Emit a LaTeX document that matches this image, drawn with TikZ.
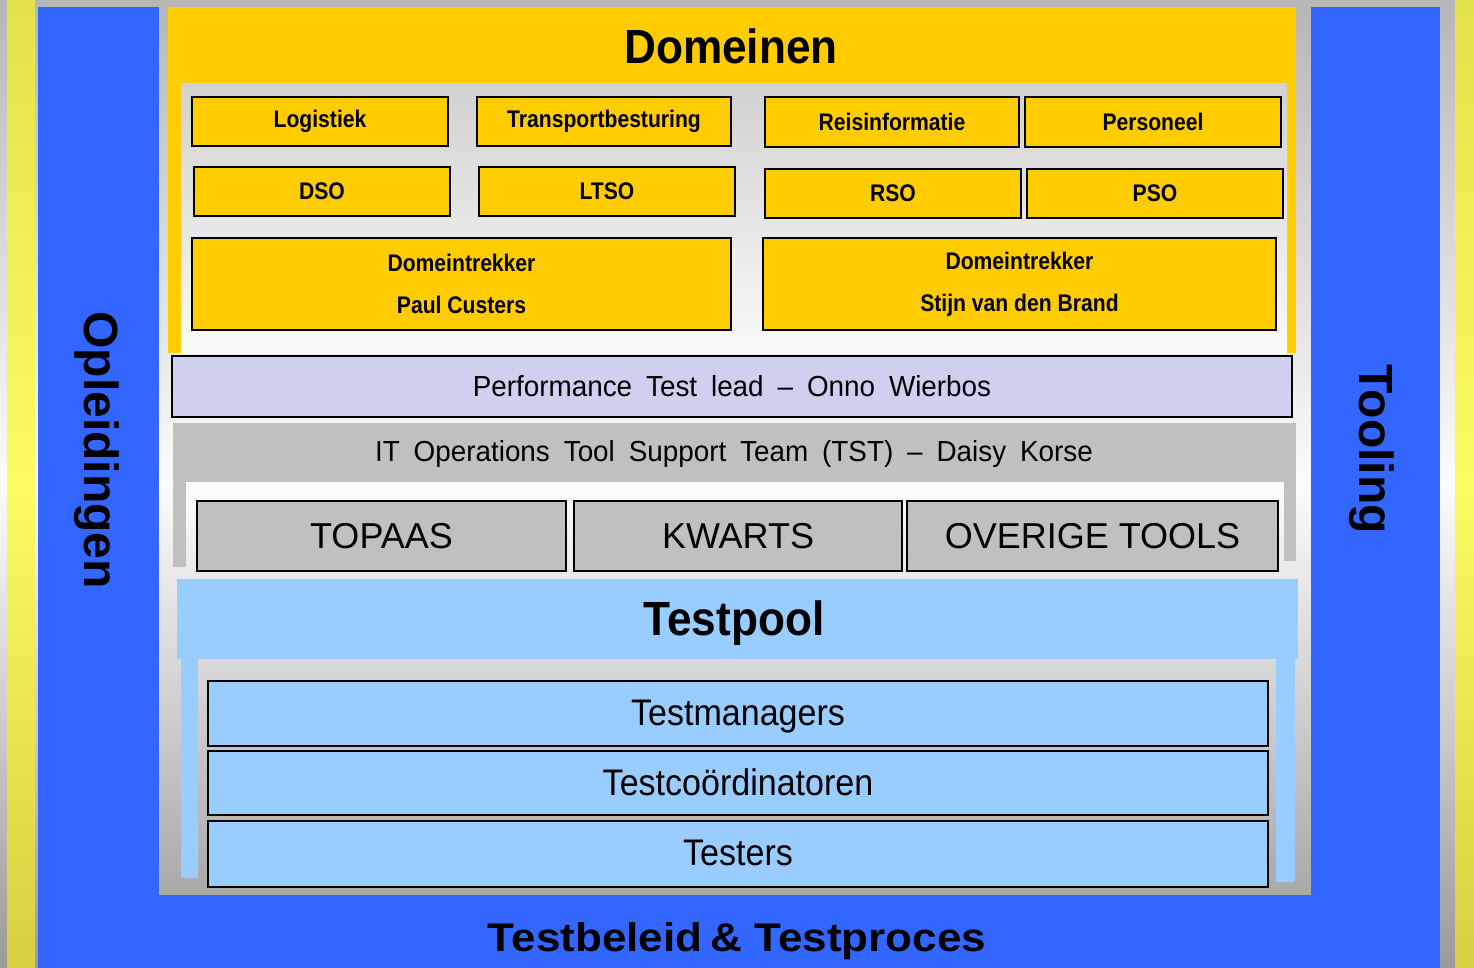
\documentclass[tikz,border=0pt]{standalone}
\usepackage{fontspec}
\setmainfont{Liberation Sans}
\newfontfamily\domfont{Liberation Sans}[FakeStretch=0.92]
\newfontfamily\narrowfont{Liberation Sans}[FakeStretch=0.88]
\newfontfamily\perffont{Liberation Sans}[FakeStretch=0.96,WordSpace=1.8]
\newfontfamily\widefont{Liberation Sans}[FakeStretch=1.1]
\newfontfamily\poolfont{Liberation Sans}[FakeStretch=0.92]
\definecolor{blueA}{HTML}{3366FF}
\definecolor{yel}{HTML}{FFCC00}
\definecolor{lav}{HTML}{CFCFEF}
\definecolor{grB}{HTML}{C0C0C0}
\definecolor{lb}{HTML}{99CCFF}
\definecolor{bgT}{HTML}{B6B6B6}
\definecolor{bgM}{HTML}{FCFCFC}
\definecolor{bgB}{HTML}{9A9A9A}
\definecolor{yT}{HTML}{E2E24A}
\definecolor{yM}{HTML}{FCFC62}
\definecolor{yB}{HTML}{D6D040}
\tikzset{
  box/.style={draw=black, line width=1.4pt, inner sep=0pt, outer sep=0pt, anchor=north west},
  dombox/.style={box, fill=yel, font=\narrowfont\bfseries\fontsize{24}{29}\selectfont, align=center},
  toolbox/.style={box, fill=grB, font=\fontsize{36}{40}\selectfont},
  poolbox/.style={box, line width=2pt, fill=lb, font=\poolfont\fontsize{37}{40}\selectfont, text depth=2pt},
  title/.style={font=\domfont\bfseries\fontsize{48}{52}\selectfont, inner sep=0pt},
  side/.style={font=\bfseries\fontsize{48}{52}\selectfont, rotate=-90, inner sep=0pt},
  lineT/.style={font=\perffont\fontsize{29}{32}\selectfont, inner sep=0pt}
}
\begin{document}
\begin{tikzpicture}[x=1pt,y=-1pt]
\useasboundingbox (0,0) rectangle (1474,968);
% background
\shade[top color=bgT, bottom color=bgB, middle color=bgM] (0,0) rectangle (1474,968);
\shade[top color=yT, bottom color=yB, middle color=yM] (7,0) rectangle (35,968);
\shade[top color=yT, bottom color=yB, middle color=yM] (1455,0) rectangle (1474,968);
% blue frame
\fill[blueA] (38,7) rectangle (159,968);
\fill[blueA] (1311,7) rectangle (1440,968);
\fill[blueA] (38,895) rectangle (1440,968);
% Domeinen frame
\fill[yel] (168,7) rectangle (1296,84);
\fill[yel] (168,84) rectangle (181,353);
\fill[yel] (1287,84) rectangle (1296,353);
\shade[top color=black!18, bottom color=black!2] (181,84) rectangle (1287,353);
\node[title] (dom) at (731,46) {Domeinen};
\node[dombox, minimum width=256pt, minimum height=49pt] (log) at (192,97) {Logistiek};
\node[dombox, minimum width=254pt, minimum height=49pt] (trans) at (477,97) {Transportbesturing};
\node[dombox, minimum width=254pt, minimum height=50pt] (reis) at (765,97) {Reisinformatie};
\node[dombox, minimum width=256pt, minimum height=50pt] (pers) at (1025,97) {Personeel};
\node[dombox, minimum width=256pt, minimum height=49pt] (dso) at (194,167) {DSO};
\node[dombox, minimum width=256pt, minimum height=49pt] (ltso) at (479,167) {LTSO};
\node[dombox, minimum width=256pt, minimum height=49pt] (rso) at (765,169) {RSO};
\node[dombox, minimum width=256pt, minimum height=49pt] (pso) at (1027,169) {PSO};
\node[dombox, minimum width=539pt, minimum height=92pt] (dt1) at (192,238) {Domeintrekker\\[13pt]Paul Custers};
\node[dombox, minimum width=513pt, minimum height=92pt] (dt2) at (763,238) {Domeintrekker\\[13pt]Stijn van den Brand};
% Performance
\node[box, line width=1.2pt, fill=lav, minimum width=1120pt, minimum height=61pt, font=\perffont\fontsize{29}{32}\selectfont] (perf) at (172,356) {Performance Test lead \textendash{} Onno Wierbos};
% IT operations frame
\fill[grB] (173,423) rectangle (1296,482);
\fill[grB] (173,482) rectangle (186,567);
\fill[grB] (1284,482) rectangle (1296,561);
\node[lineT] (it) at (734,454) {IT Operations Tool Support Team (TST) \textendash{} Daisy Korse};
\node[toolbox, minimum width=369pt, minimum height=70pt] (topaas) at (197,501) {TOPAAS};
\node[toolbox, minimum width=328pt, minimum height=70pt] (kwarts) at (574,501) {KWARTS};
\node[toolbox, minimum width=371pt, minimum height=70pt] (overige) at (907,501) {OVERIGE TOOLS};
% Testpool frame
\fill[lb] (177,579) rectangle (1298,659);
\fill[lb] (181,659) rectangle (198,878);
\fill[lb] (1276,659) rectangle (1295,882);
\node[title, anchor=base] (tp) at (734,635) {Testpool};
\node[poolbox, minimum width=1060pt, minimum height=65pt] (tm) at (208,681) {Testmanagers};
\node[poolbox, minimum width=1060pt, minimum height=64pt] (tc) at (208,751) {Testco\"ordinatoren};
\node[poolbox, minimum width=1060pt, minimum height=66pt] (ts) at (208,821) {Testers};
% side labels
\node[side] (opl) at (97,450) {Opleidingen};
\node[side] (tool) at (1372,449) {Tooling};
\node[font=\widefont\bfseries\fontsize{40}{44}\selectfont, inner sep=0pt, anchor=base] (tb) at (737,951) {Testbeleid\hspace{-4pt} \& Testproces};
\end{tikzpicture}
\end{document}
